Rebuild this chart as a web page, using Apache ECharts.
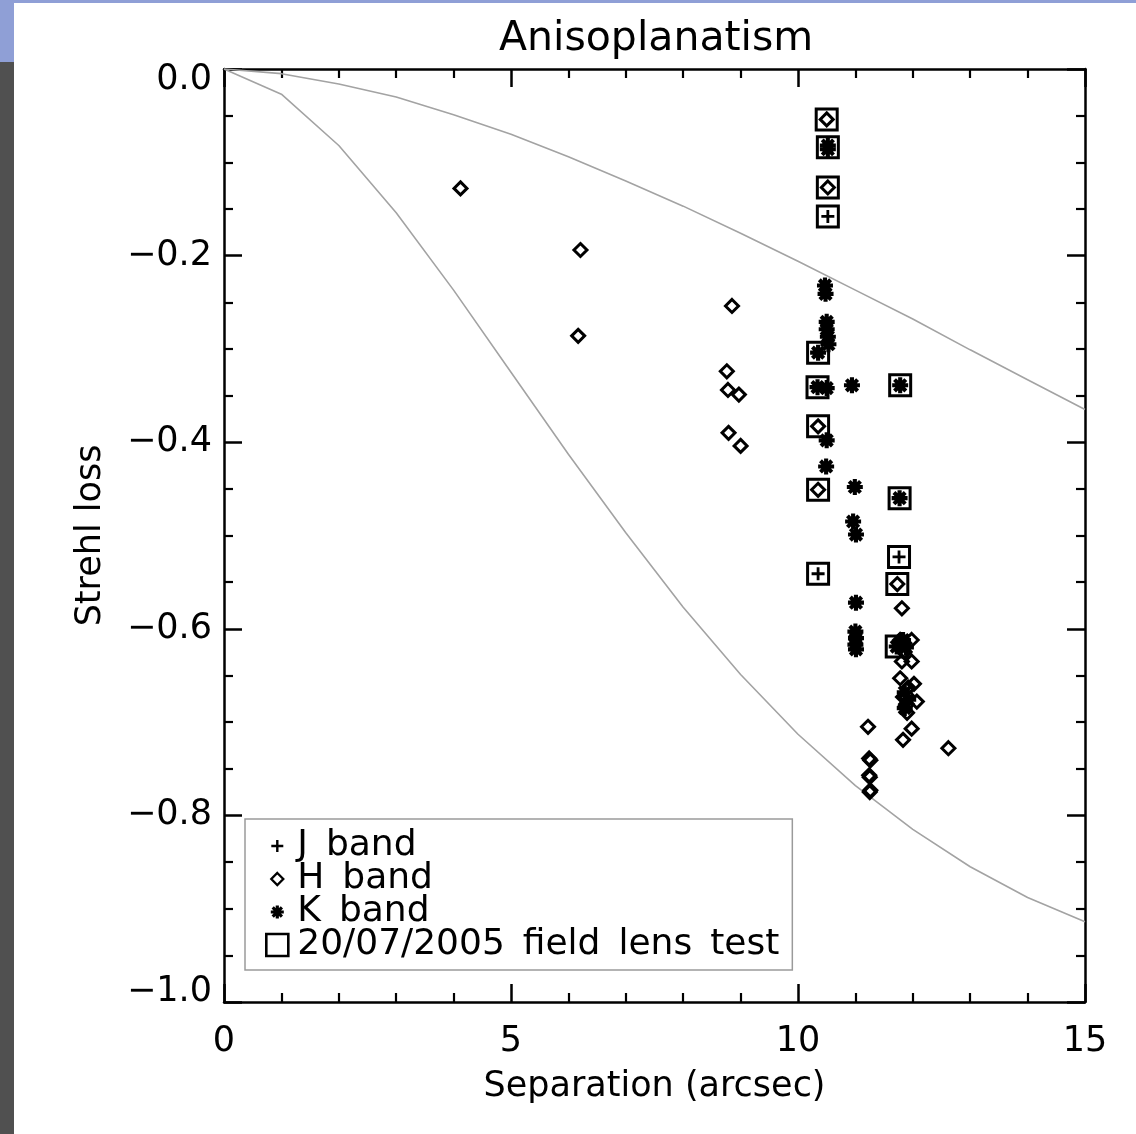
<!DOCTYPE html>
<html>
<head>
<meta charset="utf-8">
<script src="https://cdn.jsdelivr.net/npm/echarts@6/dist/echarts.min.js"></script>
<style>
html,body{margin:0;padding:0;background:#fff;}
#chart{width:1136px;height:1134px;}
</style>
</head>
<body>
<div id="chart"></div>
<script>
// ---- data ----
var titleText = 'Anisoplanatism';
var xName = 'Separation (arcsec)';
var yName = 'Strehl loss';
var xTicks = [0, 5, 10, 15];
var yTicks = [0, -0.2, -0.4, -0.6, -0.8, -1.0];

// model curves (grey), sampled at each arcsec
var curveSep   = [0, 1, 2, 3, 4, 5, 6, 7, 8, 9, 10, 11, 12, 13, 14, 15];
var upperLoss  = [0, -0.005, -0.016, -0.030, -0.049, -0.070, -0.094, -0.120, -0.147, -0.176, -0.206, -0.237, -0.268, -0.301, -0.333, -0.365];
var lowerLoss  = [0, -0.027, -0.082, -0.154, -0.237, -0.325, -0.413, -0.497, -0.577, -0.649, -0.713, -0.768, -0.815, -0.855, -0.888, -0.914];

// J band (+)
var jBand = [[10.52, -0.158], [11.76, -0.523], [10.35, -0.541]];

// H band (diamond)
var hBand = [
  [4.12, -0.128], [6.21, -0.194], [8.85, -0.254], [6.17, -0.286],
  [8.76, -0.324], [8.78, -0.344], [8.97, -0.349], [8.79, -0.390], [9.00, -0.404],
  [10.50, -0.054], [10.52, -0.127], [10.35, -0.383], [10.35, -0.451], [11.73, -0.552],
  [11.81, -0.578], [11.78, -0.612], [11.98, -0.612], [11.85, -0.625],
  [11.81, -0.635], [11.98, -0.635], [11.78, -0.653], [12.02, -0.659], [11.92, -0.663],
  [11.83, -0.673], [12.07, -0.678], [11.88, -0.682], [11.90, -0.690],
  [11.98, -0.707], [11.83, -0.719], [12.62, -0.728],
  [11.22, -0.705], [11.24, -0.739], [11.26, -0.741], [11.24, -0.757], [11.25, -0.759],
  [11.25, -0.775], [11.26, -0.773]
];

// K band (asterisk)
var kBand = [
  [10.52, -0.082], [10.52, -0.086],
  [10.47, -0.232], [10.48, -0.241],
  [10.50, -0.271], [10.50, -0.279], [10.52, -0.287], [10.53, -0.295],
  [10.35, -0.304], [10.34, -0.341], [10.50, -0.342], [10.94, -0.339], [11.78, -0.339],
  [10.50, -0.398], [10.49, -0.426], [10.99, -0.448], [11.77, -0.460],
  [10.96, -0.485], [11.01, -0.499], [11.01, -0.572],
  [11.00, -0.603], [11.01, -0.610], [11.00, -0.617], [11.01, -0.622],
  [11.83, -0.612], [11.88, -0.620], [11.72, -0.619],
  [11.86, -0.668], [11.92, -0.676], [11.86, -0.685]
];

// 20/07/2005 field lens test (square)
var lensTest = [
  [10.50, -0.054], [10.52, -0.084], [10.52, -0.127], [10.52, -0.158],
  [10.35, -0.304], [10.34, -0.341], [10.35, -0.383], [10.35, -0.451], [10.35, -0.541],
  [11.78, -0.339], [11.77, -0.460], [11.76, -0.523], [11.73, -0.552], [11.72, -0.619]
];

var seriesNames = ['J band', 'H band', 'K band', '20/07/2005 field lens test'];

// ---- build ----
function pairs(xs, ys){ return xs.map(function(x,i){ return [x, ys[i]]; }); }

var FONT = 'DejaVu Sans';
var plusPath = 'path://M-1.4,-6.5H1.4V-1.4H6.5V1.4H1.4V6.5H-1.4V1.4H-6.5V-1.4H-1.4Z';
var astPath = 'path://M-7,-1.8H7V1.8H-7Z M-1.8,-7H1.8V7H-1.8Z ' +
  'M-6.22,-3.68L-3.68,-6.22L6.22,3.68L3.68,6.22Z ' +
  'M3.68,-6.22L6.22,-3.68L-3.68,6.22L-6.22,3.68Z';
var diamondPath = 'path://M0,-6.5L6.5,0L0,6.5L-6.5,0Z';
// legend icons: padded so the glyph stays small inside a larger icon box
var pad = 'M-11,-11M11,11';
var plusIcon = 'path://' + pad + 'M-1.2,-6H1.2V-1.2H6V1.2H1.2V6H-1.2V1.2H-6V-1.2H-1.2Z';
var diamondIcon = 'path://' + pad + 'M0,-6L6,0L0,6L-6,0Z';
var astIcon = 'path://' + pad + 'M-6.5,-1.6H6.5V1.6H-6.5Z M-1.6,-6.5H1.6V6.5H-1.6Z ' +
  'M-5.73,-3.47L-3.47,-5.73L5.73,3.47L3.47,5.73Z ' +
  'M3.47,-5.73L5.73,-3.47L-3.47,5.73L-5.73,3.47Z';

var axisLineStyle = {color:'#000', width:2.5};
function xAx(pos, labels){
  return {
    type:'value', position:pos, min:0, max:15, interval:5,
    axisLine:{show:true, onZero:false, lineStyle:axisLineStyle},
    axisTick:{show:true, inside:true, length:18, lineStyle:{color:'#000', width:2.5}},
    minorTick:{show:true, splitNumber:5, length:9, lineStyle:{color:'#000', width:2.2}},
    splitLine:{show:false}, minorSplitLine:{show:false},
    axisLabel:{show:labels, margin:22, fontSize:35, color:'#000', fontFamily:FONT,
      formatter:function(v){ return xTicks.indexOf(v) >= 0 ? String(v) : ''; }},
    name: labels ? xName : '', nameLocation:'middle', nameGap:67,
    nameTextStyle:{fontSize:35, color:'#000', fontFamily:FONT}
  };
}
function yAx(pos, labels){
  return {
    type:'value', position:pos, min:-1, max:0, interval:0.2,
    axisLine:{show:true, onZero:false, lineStyle:axisLineStyle},
    axisTick:{show:true, inside:true, length:18, lineStyle:{color:'#000', width:2.5}},
    minorTick:{show:true, splitNumber:4, length:9, lineStyle:{color:'#000', width:2.2}},
    splitLine:{show:false}, minorSplitLine:{show:false},
    axisLabel:{show:labels, margin:12, fontSize:35, color:'#000', fontFamily:FONT,
      formatter:function(v){
        var r = Math.round(v*10)/10;
        if (r === 0) return '{top|0.0}';
        if (r === -1) return '{bot|\u22121.0}';
        return '\u2212' + Math.abs(r).toFixed(1);
      },
      rich:{
        top:{fontSize:35, color:'#000', fontFamily:FONT, padding:[22,0,0,0]},
        bot:{fontSize:35, color:'#000', fontFamily:FONT, padding:[0,0,20,0]}
      }},
    name: labels ? yName : '', nameLocation:'middle', nameGap:116, nameRotate:90,
    nameTextStyle:{fontSize:35, color:'#000', fontFamily:FONT}
  };
}

var chart = echarts.init(document.getElementById('chart'), null, {renderer:'canvas'});
chart.setOption({
  backgroundColor:'transparent',
  animation:false,
  title:{text:titleText, left:494, top:14,
    textStyle:{fontSize:41, fontWeight:'normal', color:'#000', fontFamily:FONT}},
  graphic:[
    {type:'rect', left:0, top:0, shape:{width:1136, height:3}, style:{fill:'#8f9fd6'}, z:-10},
    {type:'rect', left:0, top:0, shape:{width:14, height:62}, style:{fill:'#8f9fd6'}, z:-10},
    {type:'rect', left:0, top:62, shape:{width:14, height:1072}, style:{fill:'#505050'}, z:-10}
  ],
  grid:{left:224, right:51, top:69, bottom:132, containLabel:false},
  xAxis:[xAx('bottom', true), xAx('top', false)],
  yAxis:[yAx('left', true), yAx('right', false)],
  legend:{
    orient:'vertical', left:245, top:819,
    padding:[9, 13, 7, 20],
    borderColor:'#9a9a9a', borderWidth:1.5,
    itemGap:-3, itemWidth:22, itemHeight:22,
    selectedMode:false,
    formatter:function(n){ return n.replace(/ /g, '\u2002'); },
    textStyle:{fontSize:36, color:'#000', fontFamily:FONT, lineHeight:33, padding:[0,0,0,4]},
    data:[
      {name:seriesNames[0], icon:plusIcon, itemStyle:{color:'#000', borderWidth:0, opacity:1}},
      {name:seriesNames[1], icon:diamondIcon, itemStyle:{color:'transparent', borderColor:'#000', borderWidth:2.3, opacity:1}},
      {name:seriesNames[2], icon:astIcon, itemStyle:{color:'#000', borderWidth:0, opacity:1}},
      {name:seriesNames[3], icon:'rect', itemStyle:{color:'transparent', borderColor:'#000', borderWidth:2.6, opacity:1}}
    ]
  },
  series:[
    {type:'line', data:pairs(curveSep, upperLoss), showSymbol:false, silent:true,
      lineStyle:{color:'#a3a3a3', width:1.6}, z:1},
    {type:'line', data:pairs(curveSep, lowerLoss), showSymbol:false, silent:true,
      lineStyle:{color:'#a3a3a3', width:1.6}, z:1},
    {name:seriesNames[0], type:'scatter', data:jBand, symbol:plusPath, symbolSize:13,
      itemStyle:{color:'#000', borderWidth:0, opacity:1}, z:3},
    {name:seriesNames[1], type:'scatter', data:hBand, symbol:diamondPath, symbolSize:13,
      itemStyle:{color:'transparent', borderColor:'#000', borderWidth:3, opacity:1}, z:3},
    {name:seriesNames[2], type:'scatter', data:kBand, symbol:astPath, symbolSize:16,
      itemStyle:{color:'#000', borderWidth:0, opacity:1}, z:3},
    {name:seriesNames[3], type:'scatter', data:lensTest, symbol:'rect', symbolSize:21,
      itemStyle:{color:'transparent', borderColor:'#000', borderWidth:3, opacity:1}, z:4}
  ]
});
</script>
</body>
</html>
